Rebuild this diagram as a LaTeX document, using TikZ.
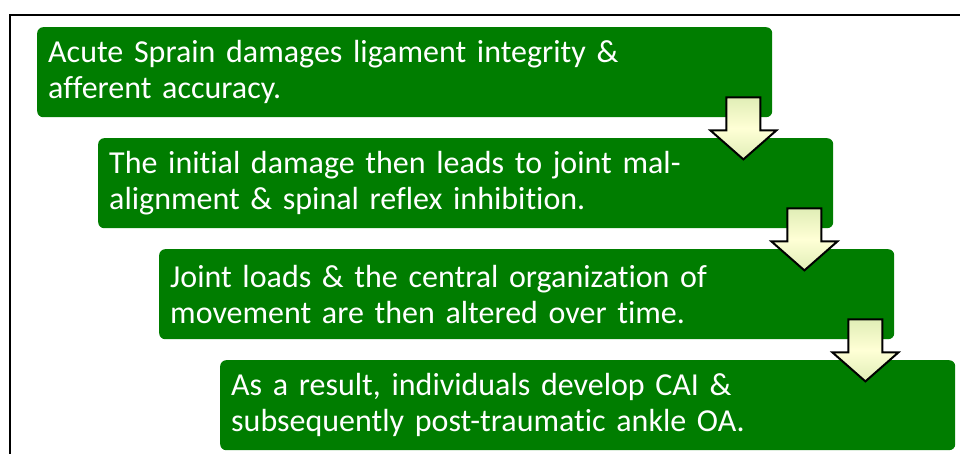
\documentclass[tikz,border=0pt]{standalone}
\usepackage{fontspec}
\setmainfont{Carlito}[Ligatures=NoCommon]
\definecolor{boxgreen}{RGB}{0,125,0}
\definecolor{arrowout}{RGB}{224,238,182}
\definecolor{arrowmid}{RGB}{255,255,214}
\begin{document}
\begin{tikzpicture}[x=1pt,y=-1pt, line join=miter,
		stepbox/.style={rectangle, rounded corners=6pt, fill=boxgreen, text=white, anchor=north west, minimum width=735pt, minimum height=90pt, text width=713pt, inner xsep=11pt, align=left, font=\fontsize{32}{36}\selectfont},
		downarrow/.style={draw=black, line width=2pt, top color=arrowout, bottom color=arrowout, middle color=arrowmid}]
	\useasboundingbox (0,0) rectangle (960,454);
	\draw[line width=2.5pt] (10,454) -- (10,15) -- (960,15);
	\foreach \i/\t in {1/{Acute Sprain damages ligament integrity \&\\afferent accuracy.},
		2/{The initial damage then leads to joint mal-\\alignment \& spinal reflex inhibition.},
		3/{Joint loads \& the central organization of\\movement are then altered over time.},
		4/{As a result, individuals develop CAI \&\\subsequently post-traumatic ankle OA.}}
		\node[stepbox] (s\i) at ({37+61*(\i-1)},{27+111*(\i-1)}) {\t};
	\foreach \i in {1,2,3}
		\draw[downarrow, shift={(s\i.south east)}, xshift=-29pt, yshift=20pt]
			(-17,0) -- (17,0) -- (17,33) -- (33,33) -- (0,62) -- (-33,33) -- (-17,33) -- cycle;
\end{tikzpicture}
\end{document}
